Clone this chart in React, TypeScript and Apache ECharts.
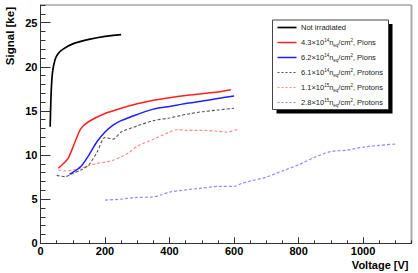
import React, { useEffect, useRef } from 'react';
import * as echarts from 'echarts';

// Voltage [V] / Signal [ke] per series
const notIrrV = [30, 33, 37, 45, 55, 70, 100, 150, 200, 250];
const notIrrS = [13.2, 17, 19.3, 20.8, 21.5, 22.0, 22.6, 23.1, 23.45, 23.65];

const pion43V = [55, 85, 105, 125, 150, 200, 250, 300, 350, 400, 450, 500, 550, 590];
const pion43S = [8.5, 9.6, 11.3, 13.0, 13.8, 14.7, 15.3, 15.8, 16.2, 16.5, 16.75, 16.95, 17.15, 17.4];

const pion62V = [90, 125, 150, 175, 200, 225, 250, 300, 350, 400, 450, 500, 550, 600];
const pion62S = [7.8, 8.7, 10.0, 11.5, 12.6, 13.4, 13.9, 14.6, 15.2, 15.5, 15.85, 16.1, 16.4, 16.7];

const prot61V = [50, 75, 100, 125, 150, 175, 200, 225, 250, 300, 350, 400, 450, 500, 550, 600];
const prot61S = [7.7, 7.55, 7.9, 8.3, 8.9, 10.3, 12.0, 11.8, 12.6, 13.3, 13.9, 14.2, 14.6, 14.9, 15.1, 15.3];

const prot11V = [55, 75, 100, 125, 150, 175, 200, 225, 250, 275, 300, 350, 400, 425, 450, 500, 550, 575, 610];
const prot11S = [8.3, 8.2, 8.3, 8.5, 8.8, 9.05, 9.2, 9.4, 9.8, 10.3, 11.0, 11.8, 12.6, 12.9, 12.8, 12.8, 12.7, 12.6, 12.9];

const prot28V = [200, 250, 300, 350, 375, 400, 450, 500, 550, 600, 625, 650, 700, 750, 800, 850, 900, 950, 1000, 1050, 1100];
const prot28S = [4.9, 5.0, 5.2, 5.25, 5.5, 5.8, 6.05, 6.25, 6.45, 6.45, 6.8, 7.05, 7.5, 8.2, 8.9, 9.75, 10.4, 10.55, 10.9, 11.1, 11.25];

const xTickLabels = [0, 200, 400, 600, 800, 1000];
const yTickLabels = [0, 5, 10, 15, 20, 25];

// legend text parts: [mantissa, exponent, particle]
const legendParts: (string[] | null)[] = [
  null,
  ['4.3', '14', 'Pions'],
  ['6.2', '14', 'Pions'],
  ['6.1', '14', 'Protons'],
  ['1.1', '15', 'Protons'],
  ['2.8', '15', 'Protons'],
];
const plainNames = ['Not irradiated', '', '', '', '', ''];

const colors = ['#000000', '#ff2020', '#2020ff', '#555555', '#ff8888', '#8c8cff'];
const widths = [1.7, 1.5, 1.5, 1.1, 1.1, 1.2];
const dashed = [false, false, false, true, true, true];

const FONT = '"Liberation Sans", Arial, Helvetica, sans-serif';

function zip(a: number[], b: number[]) {
  return a.map((v, i) => [v, b[i]]);
}

export default function App() {
  const ref = useRef<HTMLDivElement>(null);
  useEffect(() => {
    document.body.style.margin = '0';
    if (!ref.current) return;
    const chart = echarts.init(ref.current, null, { renderer: 'svg' });
    const datasets = [
      zip(notIrrV, notIrrS),
      zip(pion43V, pion43S),
      zip(pion62V, pion62S),
      zip(prot61V, prot61S),
      zip(prot11V, prot11S),
      zip(prot28V, prot28S),
    ];
    const series = datasets.map((d, i) => ({
      type: 'line',
      data: d,
      xAxisIndex: 0,
      yAxisIndex: 0,
      symbol: 'none',
      smooth: 0.25,
      lineStyle: {
        color: colors[i],
        width: widths[i],
        type: dashed[i] ? [3, 2] : 'solid',
      },
      z: 10 - i,
    }));

    const legendX = 272.5;
    const legendY = 20;
    const rowY = (i: number) => 27.5 + i * 15;
    const legendEls: any[] = [
      { type: 'rect', shape: { x: legendX + 4, y: legendY + 4, width: 116, height: 89.5 }, style: { fill: '#000' } },
      { type: 'rect', shape: { x: legendX, y: legendY, width: 116, height: 89.5 }, style: { fill: '#fff', stroke: '#444', lineWidth: 1 } },
    ];
    legendParts.forEach((p, i) => {
      legendEls.push({
        type: 'line',
        shape: { x1: 277.5, y1: rowY(i), x2: 296.5, y2: rowY(i) },
        style: { stroke: colors[i], lineWidth: widths[i], lineDash: dashed[i] ? [2, 2] : null },
      });
      const text = p
        ? `{t|${p[0]}×10}{sup|${p[1]}}{t|n}{sub|eq}{t|/cm}{sup|2}{t|, ${p[2]}}`
        : `{t|${plainNames[i]}}`;
      legendEls.push({
        type: 'text',
        x: 301,
        y: rowY(i),
        style: {
          text,
          fill: '#222',
          verticalAlign: 'middle',
          align: 'left',
          rich: {
            t: { fontSize: 7.5, fontFamily: FONT, fill: '#222', lineHeight: 10, verticalAlign: 'middle' },
            sup: { fontSize: 4.5, fontFamily: FONT, fill: '#222', lineHeight: 10, verticalAlign: 'top', padding: [0, 0, 4, 0] },
            sub: { fontSize: 4.5, fontFamily: FONT, fill: '#222', lineHeight: 10, verticalAlign: 'bottom', padding: [3, 0, 0, 0] },
          },
        },
        z: 100,
      });
    });

    const axisCommon = {
      type: 'value',
      splitLine: { show: false },
    };

    chart.setOption({
      animation: false,
      backgroundColor: '#fff',
      grid: { left: 40.5, top: 5, width: 371, height: 238.3, show: false },
      xAxis: [
        {
          ...axisCommon,
          min: 0,
          max: 1150,
          interval: 200,
          position: 'bottom',
          axisLine: { lineStyle: { color: '#333', width: 1 } },
          axisTick: { inside: true, length: 6, lineStyle: { color: '#333' } },
          axisLabel: {
            showMaxLabel: false,
            margin: 2.5,
            color: '#000',
            fontWeight: 'bold',
            fontSize: 11,
            fontFamily: FONT,
            formatter: (v: number) => (xTickLabels.includes(v) ? String(v) : ''),
          },
        },
        {
          ...axisCommon,
          min: 0,
          max: 1150,
          interval: 50,
          position: 'bottom',
          axisLine: { show: false },
          axisTick: { inside: true, length: 3, lineStyle: { color: '#333' } },
          axisLabel: { show: false },
        },
      ],
      yAxis: [
        {
          ...axisCommon,
          min: 0,
          max: 27,
          interval: 5,
          position: 'left',
          axisLine: { lineStyle: { color: '#333', width: 1 } },
          axisTick: { inside: true, length: 10, lineStyle: { color: '#333' } },
          axisLabel: {
            showMaxLabel: false,
            margin: 3,
            color: '#000',
            fontWeight: 'bold',
            fontSize: 11,
            fontFamily: FONT,
            formatter: (v: number) => (yTickLabels.includes(v) ? String(v) : ''),
          },
        },
        {
          ...axisCommon,
          min: 0,
          max: 27,
          interval: 1,
          position: 'left',
          axisLine: { show: false },
          axisTick: { inside: true, length: 5, lineStyle: { color: '#333' } },
          axisLabel: { show: false },
        },
      ],
      series,
      graphic: [
        { type: 'line', shape: { x1: 40.5, y1: 5, x2: 411.5, y2: 5 }, style: { stroke: '#777', lineWidth: 1 } },
        { type: 'line', shape: { x1: 411.5, y1: 5, x2: 411.5, y2: 243.3 }, style: { stroke: '#aaa', lineWidth: 2 } },
        ...legendEls,
        {
          type: 'text',
          x: 10,
          y: 7,
          rotation: Math.PI / 2,
          style: { text: 'Signal [ke]', fill: '#000', font: `bold 11.5px ${FONT}`, align: 'right', verticalAlign: 'middle' },
        },
        {
          type: 'text',
          x: 408.5,
          y: 265,
          style: { text: 'Voltage [V]', fill: '#000', font: `bold 11px ${FONT}`, align: 'right', verticalAlign: 'middle' },
        },
      ],
    });
    return () => chart.dispose();
  }, []);
  return <div ref={ref} style={{ width: 418, height: 273 }} />;
}
